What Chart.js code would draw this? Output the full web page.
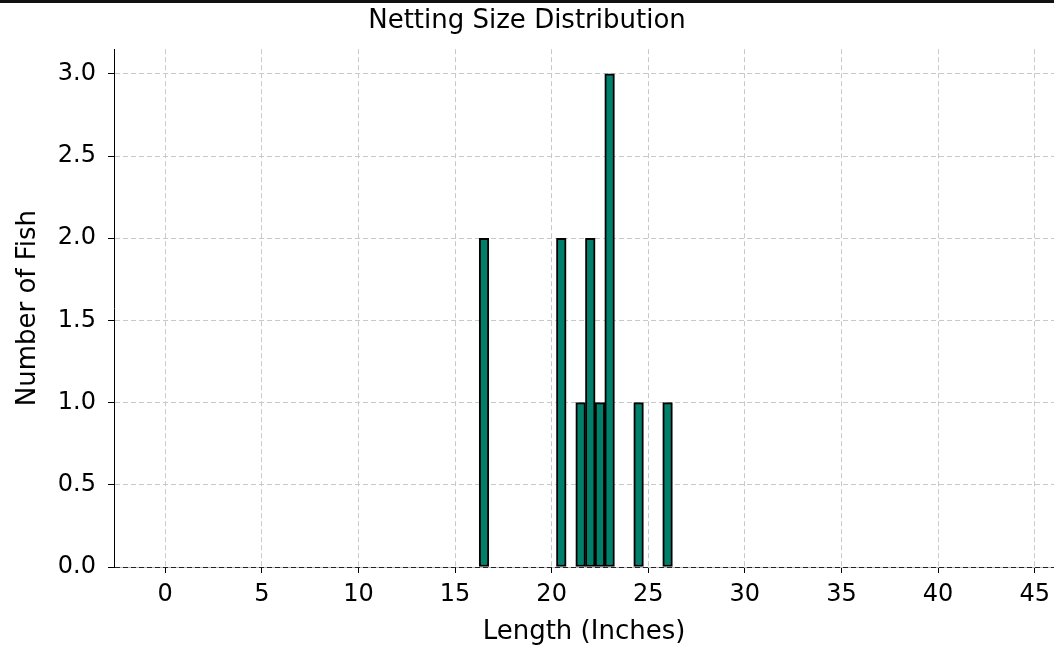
<!DOCTYPE html>
<html>
<head>
<meta charset="utf-8">
<script src="https://cdn.jsdelivr.net/npm/chart.js@4"></script>
<style>
  body { margin: 0; background: #fff; }
  #wrap { position: relative; width: 1054px; height: 648px; }
  #topline { position: absolute; left: 0; top: 0; width: 1054px; height: 3px; background: #111; }
</style>
</head>
<body>
<div id="wrap">
  <canvas id="mychart"></canvas>
  <div id="topline"></div>
</div>
<script>
	// histogram bins (centre of each half-inch bin) and counts
	const lengths = [16.5, 20.5, 21.5, 22, 22.5, 23, 24.5, 26];
	const counts = [2, 2, 1, 2, 1, 3, 1, 1];
	const yTicks = [0, 0.5, 1, 1.5, 2, 2.5, 3];

	const points = [];
	for (var i = 0; i < lengths.length; i++) {
		points.push({x: lengths[i], y: counts[i]});
	}

	var tickFont = {family: 'DejaVu Sans', size: 24, lineHeight: 1.2};
	var titleFont = {family: 'DejaVu Sans', size: 26, lineHeight: 1.2, weight: 'normal'};
	var gridGrey = '#c9c9c9';

	var ctx = document.getElementById('mychart').getContext('2d');
	var myChart = new Chart(ctx, {
		type: 'bar',
		data: {
			datasets: [{
				label: 'Number of Fish',
				data: points,
				backgroundColor: '#00806a',
				borderColor: '#000',
				borderWidth: 2,
				borderSkipped: false,
				barPercentage: 1,
				categoryPercentage: 1
			}]
		},
		options: {
			responsive: true,
			maintainAspectRatio: false,
			animation: false,
			layout: {padding: 0},
			plugins: {
				legend: {display: false},
				tooltip: {enabled: false},
				title: {
					display: true,
					text: 'Netting Size Distribution',
					color: '#000',
					font: titleFont,
					padding: {top: 6, bottom: 12}
				}
			},
			scales: {
				x: {
					type: 'linear',
					offset: false,
					min: -2.65,
					max: 46,
					afterFit: function(s) { s.height = 81; s.paddingRight = 0; s.paddingLeft = 0; },
					ticks: {
						stepSize: 5,
						includeBounds: false,
						color: '#000',
						font: tickFont,
						padding: 7,
						maxRotation: 0
					},
					grid: {
						offset: false,
						color: gridGrey,
						lineWidth: 1,
						tickColor: '#000',
						tickLength: 6
					},
					border: {display: true, color: '#bbb', width: 1, dash: [5, 3], z: -1},
					title: {
						display: true,
						text: 'Length (Inches)',
						color: '#000',
						font: titleFont,
						padding: {top: 2, bottom: 0}
					}
				},
				y: {
					min: 0,
					max: 3.15,
					afterFit: function(s) { s.width = 114; },
					afterBuildTicks: function(s) { s.ticks = yTicks.map(function(v) { return {value: v}; }); },
					ticks: {
						color: '#000',
						font: tickFont,
						padding: 12,
						callback: function(v) { return Number(v).toFixed(1); }
					},
					grid: {
						color: function(c) { return c.tick && c.tick.value === 0 ? '#222' : gridGrey; },
						lineWidth: 1,
						tickColor: '#000',
						tickLength: 6
					},
					border: {display: true, color: '#000', width: 1, dash: [5, 3]},
					title: {
						display: true,
						text: 'Number of Fish',
						color: '#000',
						font: titleFont,
						padding: {top: 13, bottom: 4}
					}
				}
			}
		}
	});
</script>
</body>
</html>
